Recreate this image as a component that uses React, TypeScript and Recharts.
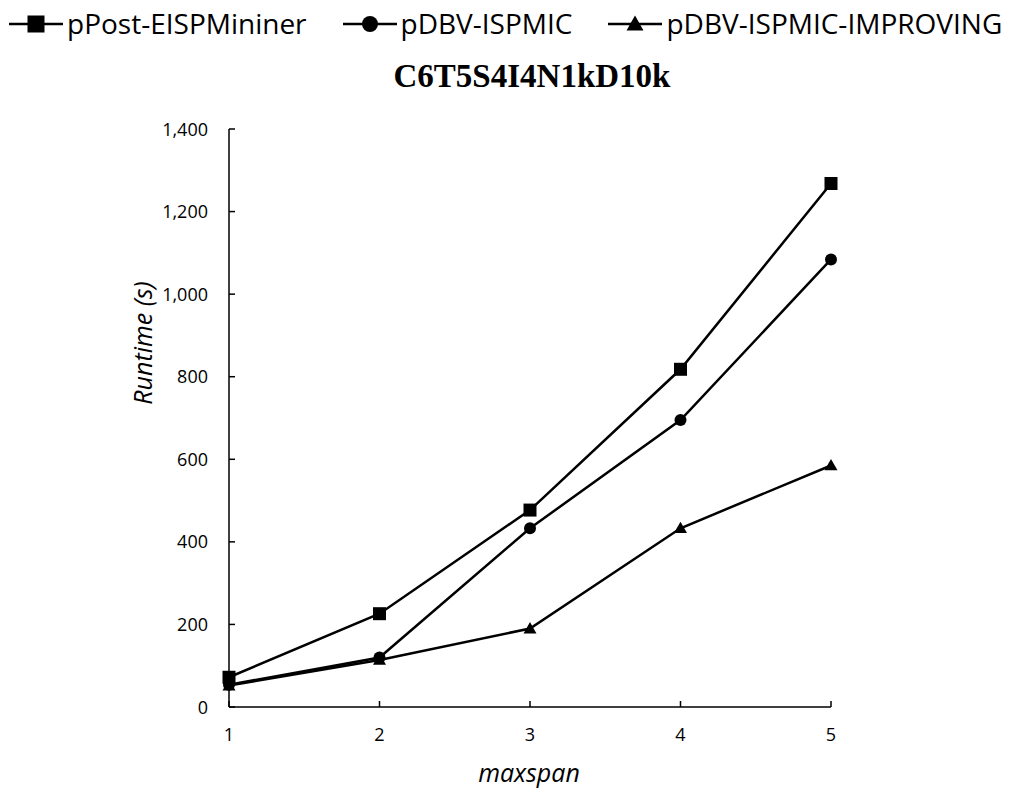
import { LineChart, Line, XAxis, YAxis, Legend } from "recharts";

const maxspan = [1, 2, 3, 4, 5];
const pPostEISPMininer = [72, 226, 477, 818, 1268];
const pDBVISPMIC = [54, 120, 433, 695, 1084];
const pDBVImproving = [52, 114, 190, 433, 585];
const yTicks = [0, 200, 400, 600, 800, 1000, 1200, 1400];

const seriesNames = ["pPost-EISPMininer", "pDBV-ISPMIC", "pDBV-ISPMIC-IMPROVING"];
const seriesShapes = ["square", "circle", "triangle"];

const data = maxspan.map((m, i) => ({
  maxspan: m,
  post: pPostEISPMininer[i],
  dbv: pDBVISPMIC[i],
  improving: pDBVImproving[i],
}));

const FONT = "'Open Sans', 'Noto Sans', sans-serif";
const TICK_FONT = 18;
const TS = 6; // recharts tickSize, the label anchor sits this far outside the axis

function Marker({ shape, cx, cy, size }: { shape: string; cx: number; cy: number; size: number }) {
  const h = size / 2;
  if (shape === "square") {
    return <rect x={cx - h} y={cy - h} width={size} height={size} fill="#000" />;
  }
  if (shape === "circle") {
    return <circle cx={cx} cy={cy} r={h - 0.5} fill="#000" />;
  }
  return (
    <polygon
      points={`${cx},${cy - h} ${cx + h},${cy + h * 0.75} ${cx - h},${cy + h * 0.75}`}
      fill="#000"
    />
  );
}

const dotFor = (shape: string) => (props: any) => {
  const { cx, cy, index } = props;
  if (cx == null || cy == null) return <g key={`d-${index}`} />;
  return (
    <g key={`d-${shape}-${index}`}>
      <Marker shape={shape} cx={cx} cy={cy} size={13} />
    </g>
  );
};

// excel style: tick marks point into the plot
function XTick(props: any) {
  const { x, y, payload } = props;
  const axisY = y - TS;
  return (
    <g>
      <line x1={x} y1={axisY} x2={x} y2={axisY - 6} stroke="#000" strokeWidth={1.5} />
      <text x={x} y={axisY + 34} textAnchor="middle" fontFamily={FONT} fontSize={TICK_FONT} fill="#000">
        {payload.value}
      </text>
    </g>
  );
}

function YTick(props: any) {
  const { x, y, payload } = props;
  const axisX = x + TS;
  return (
    <g>
      <line x1={axisX} y1={y} x2={axisX + 6} y2={y} stroke="#000" strokeWidth={1.5} />
      <text x={axisX - 21} y={y + 6.5} textAnchor="end" fontFamily={FONT} fontSize={TICK_FONT} fill="#000">
        {Number(payload.value).toLocaleString("en-US")}
      </text>
    </g>
  );
}

function LegendRow() {
  return (
    <div style={{ display: "flex", alignItems: "center", fontFamily: FONT, fontSize: 28, lineHeight: "37px", color: "#000" }}>
      {seriesNames.map((name, i) => (
        <div key={name} style={{ display: "flex", alignItems: "center", marginLeft: i === 0 ? 9 : 36 }}>
          <svg width={54} height={20} style={{ display: "block" }}>
            <line x1={0} y1={10} x2={54} y2={10} stroke="#000" strokeWidth={2.5} />
            <Marker shape={seriesShapes[i]} cx={27} cy={10} size={17} />
          </svg>
          <span style={{ marginLeft: 4, whiteSpace: "nowrap" }}>{name}</span>
        </div>
      ))}
    </div>
  );
}

export default function App() {
  return (
    <div style={{ position: "absolute", left: 0, top: 0, width: 1010, height: 790, background: "#fff" }}>
      <div
        style={{
          position: "absolute",
          left: 332,
          top: 58,
          width: 400,
          textAlign: "center",
          fontFamily: "'Liberation Serif', 'Times New Roman', serif",
          fontWeight: "bold",
          fontSize: 33,
          color: "#000",
          zIndex: 2,
        }}
      >
        C6T5S4I4N1kD10k
      </div>
      <LineChart
        width={1010}
        height={790}
        data={data}
        margin={{ top: 129, right: 179, bottom: 43, left: 129 }}
      >
        <Legend
          layout="horizontal"
          verticalAlign="middle"
          align="center"
          wrapperStyle={{ top: 5, left: 0, width: 1010, margin: 0 }}
          content={() => <LegendRow />}
        />
        <XAxis
          dataKey="maxspan"
          type="number"
          domain={[1, 5]}
          ticks={maxspan}
          height={40}
          axisLine={{ stroke: "#000", strokeWidth: 1.5 }}
          tickLine={false}
          tickSize={TS}
          tickMargin={0}
          tick={<XTick />}
          label={{
            content: () => (
              <text x={529} y={782} textAnchor="middle" fontFamily={FONT} fontStyle="italic" fontSize={25} fill="#000">
                maxspan
              </text>
            ),
          }}
        />
        <YAxis
          type="number"
          domain={[0, 1400]}
          ticks={yTicks}
          width={100}
          axisLine={{ stroke: "#000", strokeWidth: 1.5 }}
          tickLine={false}
          tickSize={TS}
          tickMargin={0}
          tick={<YTick />}
          label={{
            content: () => (
              <text
                x={152}
                y={343}
                transform="rotate(-90 152 343)"
                textAnchor="middle"
                fontFamily={FONT}
                fontStyle="italic"
                fontSize={25}
                fill="#000"
              >
                Runtime (s)
              </text>
            ),
          }}
        />
        <Line
          dataKey="post"
          name={seriesNames[0]}
          stroke="#000"
          strokeWidth={2.5}
          dot={dotFor("square")}
          activeDot={false}
          isAnimationActive={false}
        />
        <Line
          dataKey="dbv"
          name={seriesNames[1]}
          stroke="#000"
          strokeWidth={2.5}
          dot={dotFor("circle")}
          activeDot={false}
          isAnimationActive={false}
        />
        <Line
          dataKey="improving"
          name={seriesNames[2]}
          stroke="#000"
          strokeWidth={2.5}
          dot={dotFor("triangle")}
          activeDot={false}
          isAnimationActive={false}
        />
      </LineChart>
    </div>
  );
}
